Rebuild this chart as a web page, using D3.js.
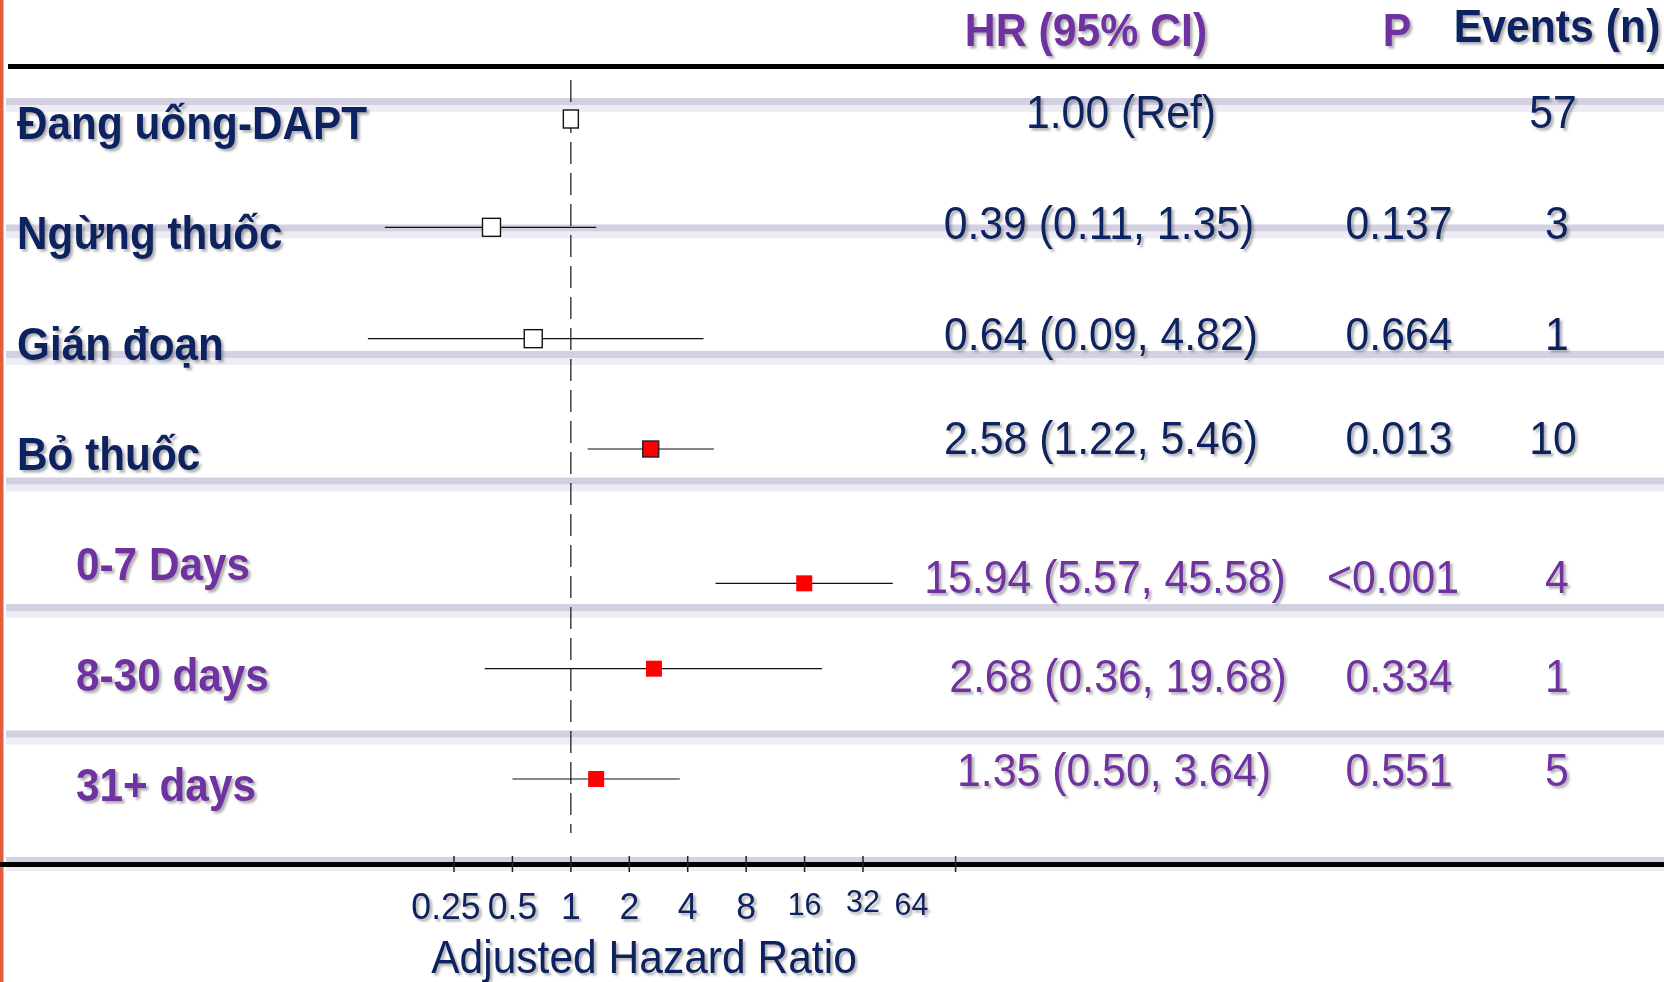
<!DOCTYPE html>
<html>
<head>
<meta charset="utf-8">
<script src="https://cdn.jsdelivr.net/npm/d3@7"></script>
<style>
  html, body { margin: 0; padding: 0; background: #fff; overflow: hidden; }
  svg { display: block; }
  text { font-family: Arial, "Liberation Sans", sans-serif; }
</style>
</head>
<body>
<div id="chart"></div>
<script>
// data
const groups = ['Đang uống-DAPT', 'Ngừng thuốc', 'Gián đoạn', 'Bỏ thuốc', '0-7 Days', '8-30 days', '31+ days'];
const hr = [1.00, 0.39, 0.64, 2.58, 15.94, 2.68, 1.35];
const ciLow = [null, 0.11, 0.09, 1.22, 5.57, 0.36, 0.50];
const ciHigh = [null, 1.35, 4.82, 5.46, 45.58, 19.68, 3.64];
const hrText = ['1.00 (Ref)', '0.39 (0.11, 1.35)', '0.64 (0.09, 4.82)', '2.58 (1.22, 5.46)',
  '15.94 (5.57, 45.58)', '2.68 (0.36, 19.68)', '1.35 (0.50, 3.64)'];
const pText = ['', '0.137', '0.664', '0.013', '<0.001', '0.334', '0.551'];
const events = [57, 3, 1, 10, 4, 1, 5];
const subgroup = [false, false, false, false, true, true, true];
const tickValues = [0.25, 0.5, 1, 2, 4, 8, 16, 32];
const tickLabels = ['0.25', '0.5', '1', '2', '4', '8', '16', '32', '64'];
const headers = ['HR (95% CI)', 'P', 'Events (n)'];

const W = 1664, H = 982;
const navy = '#0b2260', purple = '#7030a0';
const squeeze = 0.93; // the slide text looks horizontally condensed

// small per-row nudges seen in the picture (layout, not data)
const markOffset = [-5, -7, -6, -6, 18, -7, -7];
const textOffset = [-12, -11, -11, -17, 12, 0, -16];
const hrShift = [18, -4, -2, -2, 2, 15, 11];

const svg = d3.select('#chart').append('svg')
  .attr('width', W)
  .attr('height', H);

const defs = svg.append('defs');
const shadow = defs.append('filter')
  .attr('id', 'shadow')
  .attr('x', '-5%').attr('y', '-20%')
  .attr('width', '115%').attr('height', '150%');
shadow.append('feDropShadow')
  .attr('dx', 2.5).attr('dy', 2.5)
  .attr('stdDeviation', 1.3)
  .attr('flood-color', '#6e6e6e')
  .attr('flood-opacity', 0.55);

// scales
const x = d3.scaleLog().base(2)
  .domain([0.25, 96])
  .range([454, 955.6]);

const y = d3.scalePoint()
  .domain(groups)
  .range([124, 786]);

// background stripes of the slide
const stripes = d3.range(7).map(i => 101 + i * 126.5);
svg.append('g').selectAll('g')
  .data(stripes)
  .join('g')
  .each(function (d, i) {
    const g = d3.select(this);
    g.append('rect').attr('x', 6).attr('y', d + 4).attr('width', W).attr('height', 7).attr('fill', '#eeedf6');
    g.append('rect').attr('x', 6).attr('y', d - 3).attr('width', W).attr('height', 7).attr('fill', '#d3d0e2');
  });

// left accent line
svg.append('rect')
  .attr('x', 0).attr('y', 0)
  .attr('width', 3.5).attr('height', H)
  .attr('fill', '#e35d3d');

// top & bottom rules
svg.append('rect').attr('x', 8).attr('y', 64).attr('width', W).attr('height', 5).attr('fill', '#000');
svg.append('rect').attr('x', 0).attr('y', 862).attr('width', W).attr('height', 5).attr('fill', '#000');

// reference line at HR = 1
svg.append('line')
  .attr('x1', x(1)).attr('x2', x(1))
  .attr('y1', 80).attr('y2', 833)
  .attr('stroke', '#111')
  .attr('stroke-width', 1.2)
  .attr('stroke-dasharray', '22,9');

// axis ticks on the bottom rule
const axisTicks = tickValues.concat([x.domain()[1]]);
svg.append('g').selectAll('line')
  .data(axisTicks)
  .join('line')
  .attr('x1', d => x(d)).attr('x2', d => x(d))
  .attr('y1', 856).attr('y2', 872)
  .attr('stroke', '#222')
  .attr('stroke-width', 1.5);

const tickLabelG = svg.append('g').attr('fill', navy).attr('filter', 'url(#shadow)');
tickLabels.forEach((t, i) => {
  const v = +t;
  const big = v < 16;
  const xOff = v === 0.25 ? -8 : (v === 64 ? -10 : 0);
  tickLabelG.append('text')
    .attr('transform', `translate(${x(v) + xOff},${big ? 919 : (v === 32 ? 912 : 915)}) scale(0.95,1)`)
    .attr('text-anchor', 'middle')
    .attr('font-size', big ? 37.5 : 32)
    .text(t);
});

svg.append('text')
  .attr('transform', `translate(644,973) scale(0.925,1)`)
  .attr('text-anchor', 'middle')
  .attr('font-size', 46)
  .attr('fill', navy)
  .attr('filter', 'url(#shadow)')
  .text('Adjusted Hazard Ratio');

// confidence intervals
const rows = groups.map((g, i) => ({
  group: g, hr: hr[i], lo: ciLow[i], hi: ciHigh[i],
  hrText: hrText[i], p: pText[i], n: events[i], sub: subgroup[i], i
}));

svg.append('g').selectAll('line')
  .data(rows.filter(d => d.lo != null))
  .join('line')
  .attr('x1', d => x(d.lo))
  .attr('x2', d => x(d.hi))
  .attr('y1', d => y(d.group) + markOffset[d.i])
  .attr('y2', d => y(d.group) + markOffset[d.i])
  .attr('stroke', '#111')
  .attr('stroke-width', 1.2);

// point estimates: open squares for overall rows, red for the stop-drug breakdown
svg.append('g').selectAll('rect')
  .data(rows)
  .join('rect')
  .each(function (d) {
    const w = d.hr > 1 ? 16 : (d.i === 0 ? 15 : 18);
    const h = d.hr > 1 ? 16 : 18;
    d3.select(this)
      .attr('x', x(d.hr) - w / 2)
      .attr('y', y(d.group) + markOffset[d.i] - h / 2)
      .attr('width', w)
      .attr('height', h);
  })
  .attr('fill', d => d.hr > 1 ? '#ff0000' : '#fff')
  .attr('stroke', d => d.hr > 1 ? (d.i === 3 ? '#222' : 'none') : '#111')
  .attr('stroke-width', 1.4);

// left labels
svg.append('g').attr('filter', 'url(#shadow)')
  .selectAll('text')
  .data(rows)
  .join('text')
  .attr('transform', d => `translate(${d.sub ? 76 : 17},${y(d.group) + 15}) scale(0.92,1)`)
  .attr('font-size', 46)
  .attr('font-weight', 'bold')
  .attr('fill', d => d.sub ? purple : navy)
  .text(d => d.group);

// table columns
const cols = svg.append('g').attr('filter', 'url(#shadow)');
cols.selectAll('text.hr')
  .data(rows)
  .join('text')
  .attr('class', 'hr')
  .attr('transform', d => `translate(${1103 + hrShift[d.i]},${y(d.group) + textOffset[d.i] + 16}) scale(${squeeze},1)`)
  .attr('text-anchor', 'middle')
  .attr('font-size', 46)
  .attr('fill', d => d.sub ? purple : navy)
  .text(d => d.hrText);

cols.selectAll('text.p')
  .data(rows.filter(d => d.p))
  .join('text')
  .attr('class', 'p')
  .attr('transform', d => `translate(${d.p.startsWith('<') ? 1393 : 1399},${y(d.group) + textOffset[d.i] + 16}) scale(${squeeze},1)`)
  .attr('text-anchor', 'middle')
  .attr('font-size', 46)
  .attr('fill', d => d.sub ? purple : navy)
  .text(d => d.p);

cols.selectAll('text.n')
  .data(rows)
  .join('text')
  .attr('class', 'n')
  .attr('transform', d => `translate(${d.n >= 10 ? 1553 : 1557},${y(d.group) + textOffset[d.i] + 16}) scale(${squeeze},1)`)
  .attr('text-anchor', 'middle')
  .attr('font-size', 46)
  .attr('fill', d => d.sub ? purple : navy)
  .text(d => d.n);

// header row
const headX = [1086, 1397, 1557];
svg.append('g').attr('filter', 'url(#shadow)')
  .selectAll('text')
  .data(headers)
  .join('text')
  .attr('transform', (d, i) => `translate(${headX[i]},${i === 2 ? 42 : 46}) scale(${squeeze},1)`)
  .attr('text-anchor', 'middle')
  .attr('font-size', 46)
  .attr('font-weight', 'bold')
  .attr('fill', (d, i) => i === 2 ? navy : purple)
  .text(d => d);
</script>
</body>
</html>
